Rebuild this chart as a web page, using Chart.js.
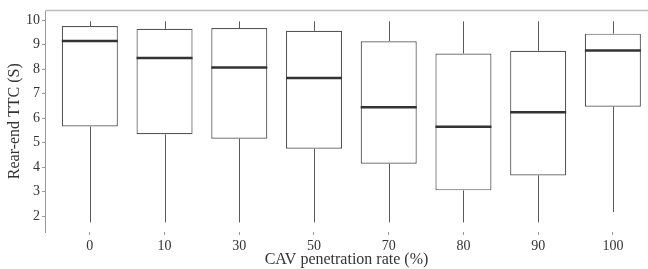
<!DOCTYPE html>
<html>
<head>
<meta charset="utf-8">
<script src="https://cdn.jsdelivr.net/npm/chart.js@4"></script>
<style>
  html, body { margin: 0; padding: 0; background: #fff; }
  #wrap { width: 648px; height: 269px; }
</style>
</head>
<body>
<div id="wrap"><canvas id="ttc"></canvas></div>
<script>
// CAV penetration rate (%) categories
var rates = ["0", "10", "30", "50", "70", "80", "90", "100"];
// box plot summary of rear-end TTC (s)
var whiskLo = [1.74, 1.74, 1.74, 1.74, 1.74, 1.74, 1.74, 2.16];
var q1      = [5.66, 5.34, 5.16, 4.75, 4.14, 3.05, 3.66, 6.47];
var med     = [9.15, 8.46, 8.07, 7.64, 6.44, 5.65, 6.24, 8.76];
var q3      = [9.76, 9.65, 9.68, 9.57, 9.14, 8.64, 8.75, 9.45];
var whiskHi = [9.95, 9.95, 9.95, 9.95, 9.95, 9.95, 9.95, 9.95];
var yTicks = [2, 3, 4, 5, 6, 7, 8, 9, 10];

var serif = "'Liberation Serif', 'DejaVu Serif', serif";

var boxExtras = {
  id: 'boxExtras',
  beforeDatasetsDraw: function(chart) {
    var ctx = chart.ctx, xs = chart.scales.x, ys = chart.scales.y, a = chart.chartArea;
    ctx.save();
    // top frame line
    ctx.strokeStyle = '#bdbdbd';
    ctx.lineWidth = 1.5;
    ctx.beginPath();
    ctx.moveTo(a.left, a.top);
    ctx.lineTo(chart.width, a.top);
    ctx.stroke();
    // whiskers
    ctx.strokeStyle = '#5a5a5a';
    ctx.lineWidth = 1;
    for (var i = 0; i < rates.length; i++) {
      var x = Math.round(xs.getPixelForValue(i)) + 0.5;
      ctx.beginPath();
      ctx.moveTo(x, ys.getPixelForValue(whiskLo[i]));
      ctx.lineTo(x, ys.getPixelForValue(q1[i]));
      ctx.moveTo(x, ys.getPixelForValue(q3[i]));
      ctx.lineTo(x, ys.getPixelForValue(whiskHi[i]));
      ctx.stroke();
    }
    ctx.restore();
  },
  afterDatasetsDraw: function(chart) {
    var ctx = chart.ctx, xs = chart.scales.x, ys = chart.scales.y;
    ctx.save();
    ctx.strokeStyle = '#333333';
    ctx.lineWidth = 2.5;
    var hw = xs.getPixelForValue(0.375) - xs.getPixelForValue(0);
    for (var i = 0; i < rates.length; i++) {
      var x = xs.getPixelForValue(i);
      var y = ys.getPixelForValue(med[i]);
      ctx.beginPath();
      ctx.moveTo(x - hw, y);
      ctx.lineTo(x + hw, y);
      ctx.stroke();
    }
    ctx.restore();
  }
};

var ctx = document.getElementById('ttc');
var myChart = new Chart(ctx, {
  type: 'bar',
  data: {
    datasets: [{
      label: 'Rear-end TTC',
      data: rates.map(function(r, i) { return { x: i, y: [q1[i], q3[i]] }; }),
      backgroundColor: '#ffffff',
      borderColor: '#555555',
      borderWidth: 1.2,
      borderSkipped: false,
      barPercentage: 0.75,
      categoryPercentage: 1
    }]
  },
  options: {
    responsive: true,
    maintainAspectRatio: false,
    animation: false,
    layout: { padding: { top: 8, right: 0, left: 0, bottom: 0 } },
    plugins: { legend: { display: false }, tooltip: { enabled: false } },
    scales: {
      x: {
        type: 'linear',
        offset: false,
        min: -0.6,
        max: 7.47,
        afterBuildTicks: function(scale) {
          scale.ticks = rates.map(function(r, i) { return { value: i }; });
        },
        afterFit: function(scale) { scale.height = 37; },
        border: { display: false },
        grid: { offset: false, drawOnChartArea: false, drawTicks: true, tickLength: 3, color: '#999999' },
        ticks: {
          autoSkip: false,
          maxRotation: 0,
          padding: 3,
          color: '#333333',
          font: { family: serif, size: 14 },
          callback: function(v) { return rates[v]; }
        },
        title: {
          display: true,
          text: 'CAV penetration rate (%)',
          color: '#333333',
          padding: { top: 0, bottom: 0 },
          font: { family: serif, size: 16 }
        }
      },
      y: {
        min: 1.35,
        max: 10.4,
        afterBuildTicks: function(scale) {
          scale.ticks = yTicks.map(function(v) { return { value: v }; });
        },
        afterFit: function(scale) { scale.width = 45; },
        border: { display: true, color: '#999999', width: 1 },
        grid: { drawOnChartArea: false, drawTicks: true, tickLength: 3, color: '#999999' },
        ticks: {
          padding: 2,
          color: '#333333',
          font: { family: serif, size: 14 }
        },
        title: {
          display: true,
          text: 'Rear-end TTC (S)',
          color: '#333333',
          padding: { top: 5, bottom: 0 },
          font: { family: serif, size: 16 }
        }
      }
    }
  },
  plugins: [boxExtras]
});
</script>
</body>
</html>
